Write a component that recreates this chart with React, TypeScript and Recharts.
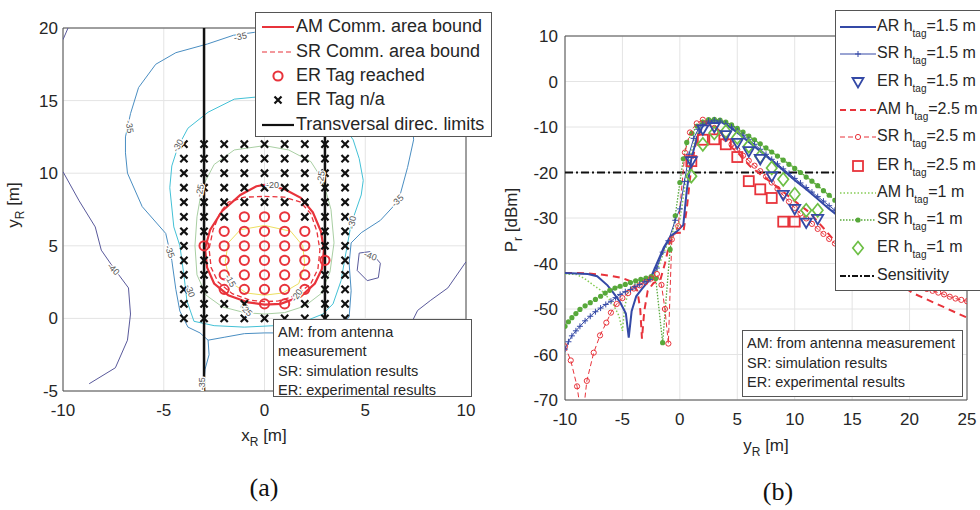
import React from 'react';
import { ComposedChart, Line, Scatter, XAxis, YAxis, CartesianGrid, ReferenceArea } from 'recharts';

type P = { x: number; y: number };
const pts = (a: number[][]): P[] => a.map(([x, y]) => ({ x, y }));

// ---------- Panel (a) ----------
const xTicksA = [-10, -5, 0, 5, 10];
const yTicksA = [-5, 0, 5, 10, 15, 20];

const contourM40Left = [[-10, 10.1], [-9.2, 8.1], [-8.4, 6.3], [-8.1, 4.7], [-7.5, 3.5], [-6.75, 2.1], [-6.65, 0.3], [-6.8, -1.5], [-7.4, -3.4], [-8.7, -4.5]];
const contourM40Corner = [[-10, 19.2], [-9.75, 20]];
const contourM40Island = [[4.7, 4.5], [5.25, 4.6], [5.75, 3.8], [5.65, 2.8], [5.1, 2.6], [4.6, 3.3], [4.7, 4.5]];
const contourM40Right = [[10, 3.9], [9.1, 2.1], [8.25, 1.25], [7.6, 0.55], [7.35, -0.15], [7.2, -1.5]];
const contourM35 = [[-3.05, -5], [-2.95, -3.5], [-2.75, -2.5], [-2.8, -1.5], [-3.2, -1.0], [-3.8, -0.6], [-4.2, 0.5], [-4.4, 2], [-4.6, 4], [-4.9, 5.85], [-6.07, 7.7], [-6.8, 10], [-6.9, 11.4], [-6.9, 12.5], [-6.65, 14.1], [-6.25, 15.9], [-5.4, 17.5], [-4.4, 18.3], [-2.83, 18.9], [-1.54, 19.5], [-0.5, 19.7], [1, 19.8], [3, 19.8], [5, 19], [6.5, 17], [7.3, 14.5], [7.4, 12.3], [7.1, 10.4], [6.65, 8.1], [5.75, 6.75], [4.8, 5.9], [4.3, 5.2], [4.2, 3.8], [4.3, 1.9], [4.2, 0.1], [3.5, -0.9], [2, -1.0], [0, -1.0], [-1, -1.05], [-2, -1.3], [-2.8, -1.5]];
const contourM30 = [[0, 15.3], [-1.5, 15.1], [-2.8, 14.2], [-3.8, 13.1], [-4.3, 11.8], [-4.6, 10.5], [-4.7, 9], [-4.5, 6.3], [-4.2, 5], [-4.0, 3], [-3.85, 1.2], [-3.5, -0.2], [-2.5, -0.5], [-1, -0.6], [0.5, -0.5], [2, -0.2], [2.9, 0.3], [3.4, 1.0], [3.8, 2.6], [4.0, 4.2], [4.3, 6.5], [4.8, 8.5], [4.9, 9.5], [4.7, 11], [4.4, 12.3], [3.8, 13.5], [2.5, 14.6], [1, 15.2], [0, 15.3]];
const contourM25 = [[0, 11.9], [-1.5, 11.6], [-2.5, 10.6], [-3.1, 9.0], [-3.35, 7], [-3.45, 5], [-3.35, 3], [-2.9, 1.6], [-2.1, 0.8], [-1, 0.4], [0, 0.3], [1, 0.4], [2, 0.85], [2.8, 1.7], [3.25, 3.2], [3.45, 5.2], [3.3, 7.5], [2.9, 9.5], [2.3, 10.8], [1.2, 11.6], [0, 11.9]];
const contourM15 = [[0, 6.4], [-1.2, 6.1], [-1.8, 5.2], [-1.95, 3.9], [-1.7, 2.5], [-0.9, 1.75], [0, 1.6], [0.9, 1.75], [1.7, 2.4], [2.0, 3.7], [1.9, 5.0], [1.3, 6.0], [0, 6.4]];
const amBound = [[0, 9.2], [1, 8.9], [1.8, 8.3], [2.4, 7.3], [2.8, 6.0], [2.95, 4.7], [2.85, 3.4], [2.5, 2.4], [1.8, 1.5], [0.8, 1.0], [0, 0.95], [-0.8, 1.1], [-1.8, 1.6], [-2.5, 2.4], [-2.85, 3.5], [-2.95, 4.8], [-2.7, 6.1], [-2.1, 7.4], [-1.2, 8.5], [-0.4, 9.1], [0, 9.2]];
const srBound = [[0, 8.4], [1, 8.35], [1.8, 8.0], [2.3, 7.2], [2.6, 6.0], [2.75, 4.7], [2.65, 3.4], [2.3, 2.4], [1.6, 1.6], [0.7, 1.2], [0, 1.15], [-0.7, 1.25], [-1.6, 1.7], [-2.3, 2.5], [-2.65, 3.5], [-2.75, 4.8], [-2.55, 6.1], [-2.2, 7.3], [-1.8, 8.0], [-1, 8.35], [0, 8.4]];
const transLeft = [[-3, -5], [-3, 20]];
const transRight = [[3, -5], [3, 20]];

const tagX = [-4, -3, -2, -1, 0, 1, 2, 3, 4];
const tagY = [0, 1, 2, 3, 4, 5, 6, 7, 8, 9, 10, 11, 12];
const reachedTags = [
  [-1, 7], [0, 7], [1, 7],
  [-2, 6], [-1, 6], [0, 6], [1, 6], [2, 6],
  [-3, 5], [-2, 5], [-1, 5], [0, 5], [1, 5], [2, 5],
  [-2, 4], [-1, 4], [0, 4], [1, 4], [2, 4], [3, 4],
  [-2, 3], [-1, 3], [0, 3], [1, 3], [2, 3],
  [-2, 2], [-1, 2], [0, 2], [1, 2], [2, 2],
  [0, 1], [1, 1],
];
const reachedKeys = new Set(reachedTags.map(([x, y]) => `${x},${y}`));
const naTags: P[] = [];
tagY.forEach((y) => tagX.forEach((x) => { if (!reachedKeys.has(`${x},${y}`)) naTags.push({ x, y }); }));

const contourLabels = [
  { x: -1.2, y: 19.4, t: '-35', a: -12 },
  { x: -6.7, y: 13.2, t: '-35', a: 80 },
  { x: -4.3, y: 11.9, t: '-30', a: -60 },
  { x: -4.7, y: 4.6, t: '-35', a: 70 },
  { x: -7.5, y: 3.4, t: '-40', a: 45 },
  { x: 6.6, y: 8.1, t: '-35', a: -45 },
  { x: 4.35, y: 6.6, t: '-30', a: -80 },
  { x: 5.25, y: 4.3, t: '-40', a: 20 },
  { x: -3.1, y: -4.5, t: '-35', a: -90 },
  { x: -3.2, y: 8.8, t: '-25', a: -80 },
  { x: 2.8, y: 9.7, t: '-25', a: -80 },
  { x: 0.4, y: 9.2, t: '-20', a: 0 },
  { x: -1.7, y: 2.6, t: '-15', a: 60 },
  { x: 1.6, y: 1.6, t: '-20', a: -55 },
  { x: -0.9, y: 0.55, t: '-25', a: 45 },
  { x: -3.7, y: 1.9, t: '-30', a: 70 },
];

// ---------- Panel (b) ----------
const xTicksB = [-10, -5, 0, 5, 10, 15, 20, 25];
const yTicksB = [-70, -60, -50, -40, -30, -20, -10, 0, 10];

const ar15 = [[-10, -42.1], [-9, -42.2], [-8, -42.3], [-7.2, -42.8], [-6.3, -44.8], [-5.8, -46.4], [-5.2, -48.5], [-4.7, -51], [-4.45, -56.3], [-4.2, -50.5], [-3.8, -47.2], [-3.3, -45.6], [-2.6, -43.5], [-2, -40], [-1.4, -36.5], [-0.8, -34], [-0.2, -32.8], [0.3, -31.5], [0.6, -24], [1.0, -17], [1.5, -12.2], [2, -9.8], [2.5, -8.9], [3, -8.6], [3.5, -8.8], [4, -9.4], [5, -11.2], [6, -13.3], [7, -15.3], [8, -17.4], [9, -19.5], [10, -21.7], [11, -23.7], [12, -25.8], [13, -28], [14, -30], [16, -33.5], [18, -36.5], [20, -39], [22, -41], [25, -43.5]];
const sr15 = [[-10, -58.8], [-9.7, -57.2], [-9.4, -55.9], [-9.05, -54.8], [-8.7, -53.8], [-8.25, -52.6], [-7.8, -51.6], [-7.35, -50.6], [-6.9, -49.8], [-6.45, -49], [-6, -48.3], [-5.6, -47.5], [-5.2, -46.8], [-4.75, -46.2], [-4.3, -45.7], [-3.9, -45.1], [-3.5, -44.6], [-3.05, -44], [-2.6, -43.5], [-2, -41], [-1.5, -37.5], [-1, -35], [-0.4, -30.5], [0, -28], [0.4, -22], [0.8, -16], [1.2, -12.5], [1.6, -10.5], [2, -9.4], [2.5, -8.7], [3, -8.5], [3.5, -8.7], [4, -9.3], [4.5, -10], [5, -10.9], [5.5, -11.8], [6, -12.8], [6.5, -13.8], [7, -14.9], [7.5, -16], [8, -17.1], [8.5, -18.1], [9, -19.2], [9.5, -20.2], [10, -21.3], [10.5, -22.3], [11, -23.3], [11.5, -24.3], [12, -25.3], [12.5, -26.3], [13, -27.3], [13.5, -28.3], [14, -29.2], [15, -31], [17, -34.2], [19, -37], [21, -39.5], [23, -41.5], [25, -43.3]];
const er15 = [[1, -17.5], [2, -10.5], [3, -10], [4, -11.8], [5, -13.5], [6, -15.3], [7, -17], [8, -20.8], [9, -24.9], [10, -28], [11, -31], [12, -30.2]];
const am25 = [[-10, -42.1], [-9, -42.1], [-8, -42.2], [-7, -42.4], [-6, -42.7], [-5, -43.2], [-4.2, -44], [-3.7, -46], [-3.45, -50], [-3.3, -56.5], [-3.1, -50.5], [-2.8, -46], [-2.3, -44.3], [-1.7, -43.6], [-1.3, -40], [-0.9, -35.5], [-0.4, -33.3], [0.3, -33.2], [0.6, -28], [0.9, -21], [1.3, -14.5], [1.8, -10.8], [2.3, -9.2], [2.8, -9.3], [3.5, -11], [4.4, -14.3], [5, -15.5], [6.1, -18.6], [7, -20.4], [8.5, -23.2], [10, -26.3], [11.3, -28.8], [12.5, -32.2], [13.3, -34.5], [15, -37.5], [17, -40.8], [19, -44.2], [20.2, -46.4], [21.5, -47.9], [23, -49.6], [25, -51.9]];
const sr25 = [[-10, -58.2], [-9.5, -61.3], [-8.95, -67], [-8.5, -75], [-8.1, -65.8], [-7.5, -59.6], [-6.95, -55.8], [-6.4, -53], [-6, -50.8], [-5.5, -48.9], [-5, -47.6], [-4.5, -46.5], [-4, -45.5], [-3.5, -44.8], [-3, -44.1], [-2.5, -43.3], [-2, -42.3], [-1.6, -44.7], [-1.3, -50], [-1.0, -57.6], [-0.7, -34.7], [-0.14, -31.8], [0.44, -15.6], [0.88, -11.2], [1.47, -9.2], [2, -8.4], [2.5, -9.2], [3, -10.2], [3.5, -11.3], [4, -12.6], [4.5, -13.8], [5, -15], [5.5, -16.3], [6, -17.4], [6.5, -18.5], [7, -19.7], [7.5, -20.9], [8, -22.2], [8.5, -23.6], [9, -25], [9.5, -26.4], [10, -27.8], [10.5, -29], [11, -30.1], [11.5, -31.3], [12, -32.4], [12.5, -33.5], [13, -34.6], [13.5, -35.6], [14, -36.5], [15, -38.2], [16, -39.7], [17, -41], [18, -42.2], [19, -43.3], [20, -44.2], [21, -45.1], [21.5, -45.6], [22, -46], [22.5, -46.4], [23, -46.8], [23.5, -47.3], [24, -47.7], [24.5, -48], [25, -48.3]];
const er25 = [[1, -17.5], [2, -12.8], [3, -12.7], [4, -13.8], [5, -16.6], [6, -21.9], [7, -23.7], [8, -25.6], [9, -30.8], [10, -30.8]];
const am1 = [[-10, -42.3], [-9, -42.4], [-8.3, -43.3], [-7.5, -44.8], [-6.6, -46.4], [-5.8, -49], [-5.3, -51.5], [-5.0, -54.8], [-4.8, -49.5], [-4.5, -46.2], [-4, -44.6], [-3, -43.5], [-2.3, -42.8], [-1.9, -41], [-1.4, -37.5], [-0.9, -35], [-0.4, -33], [0, -30.5], [0.5, -22], [1, -15.5], [1.5, -11.5], [2, -9.3], [2.5, -8.5], [3, -8.3], [4, -8.9], [5, -10.4], [6, -12.1], [7, -13.8], [8, -15.5], [9, -17.2], [10, -19], [11, -20.9], [12, -22.9], [13, -25], [13.7, -26.6], [15, -29], [17, -32.3], [19, -35.2], [21, -37.7], [23, -40], [25, -42]];
const sr1 = [[-10, -53.8], [-9.7, -52.8], [-9.4, -51.9], [-9.05, -51], [-8.7, -50.1], [-8.25, -49.3], [-7.8, -48.6], [-7.35, -47.9], [-6.9, -47.2], [-6.5, -46.5], [-6.1, -45.9], [-5.65, -45.4], [-5.2, -45], [-4.75, -44.6], [-4.3, -44.2], [-3.85, -43.8], [-3.4, -43.5], [-2.95, -43.2], [-2.5, -42.9], [-2.1, -43.3], [-1.5, -57.4], [-0.85, -36.9], [-0.4, -29.5], [0, -22.2], [0.3, -17], [0.6, -13.4], [1.05, -11.4], [1.5, -9.8], [2, -8.9], [2.5, -8.4], [3, -8.3], [3.5, -8.5], [4, -8.9], [4.5, -9.5], [5, -10.3], [5.5, -11.1], [6, -12], [6.5, -12.8], [7, -13.7], [7.5, -14.6], [8, -15.5], [8.5, -16.4], [9, -17.3], [9.5, -18.2], [10, -19.1], [10.5, -20], [11, -21], [11.5, -21.9], [12, -22.9], [12.5, -24], [13, -25], [13.5, -26.1], [14, -27.1], [15, -29.1], [17, -32.6], [19, -35.5], [21, -38], [23, -40.2], [25, -42.2]];
const er1 = [[1, -20.8], [2, -13.8], [3, -11.3], [4, -11], [5, -12.3], [6, -14.2], [7, -16.5], [8, -19], [9, -21.5], [10, -24.8], [11, -28.3], [12, -28.3]];
const sensitivity = [[-10, -20], [25, -20]];

// ---------- styles ----------
const SANS = '"Liberation Sans", Arial, Helvetica, sans-serif';
const SERIF = '"Liberation Serif", "Times New Roman", serif';
const TXT = '#262626';
const BLUE = '#3449a6';
const RED = '#e8333b';
const GREEN = '#6dbf45';
const GREEN_D = '#57a83a';
const C40 = '#59599b';
const C35 = '#4a8ec2';
const C30 = '#43c1d6';
const C25 = '#a9cfa3';
const C15 = '#ecdf5f';

const tickStyle = { fill: TXT, fontSize: 17, fontFamily: SANS };

const crossShape = (props: any) => {
  const { cx, cy } = props;
  if (cx == null || cy == null) return <g />;
  const s = 3.6;
  return <path d={`M${cx - s},${cy - s}L${cx + s},${cy + s}M${cx - s},${cy + s}L${cx + s},${cy - s}`} stroke="#111" strokeWidth={2.2} />;
};
const ringShape = (props: any) => {
  const { cx, cy } = props;
  if (cx == null || cy == null) return <g />;
  return <circle cx={cx} cy={cy} r={4.6} fill="none" stroke={RED} strokeWidth={2} />;
};
const labelShape = (props: any) => {
  const { cx, cy, payload } = props;
  if (cx == null || cy == null) return <g />;
  return (
    <text x={cx} y={cy} transform={`rotate(${payload.a} ${cx} ${cy})`} textAnchor="middle" dominantBaseline="central"
      fontSize={9} fontFamily={SANS} fill="#555" stroke="#fff" strokeWidth={2.5} paintOrder="stroke">{payload.t}</text>
  );
};
const triShape = (props: any) => {
  const { cx, cy } = props;
  if (cx == null || cy == null) return <g />;
  return <path d={`M${cx - 5.5},${cy - 4}L${cx + 5.5},${cy - 4}L${cx},${cy + 5.5}Z`} fill="none" stroke={BLUE} strokeWidth={1.8} />;
};
const sqShape = (props: any) => {
  const { cx, cy } = props;
  if (cx == null || cy == null) return <g />;
  return <rect x={cx - 5} y={cy - 5} width={10} height={10} fill="none" stroke={RED} strokeWidth={1.8} />;
};
const diaShape = (props: any) => {
  const { cx, cy } = props;
  if (cx == null || cy == null) return <g />;
  return <path d={`M${cx},${cy - 6.5}L${cx + 5.2},${cy}L${cx},${cy + 6.5}L${cx - 5.2},${cy}Z`} fill="none" stroke={GREEN} strokeWidth={1.7} />;
};
const inRange = (p: any) => p && p.payload && p.payload.y >= -70 && p.payload.y <= 10;
const plusDot = (props: any) => {
  const { cx, cy, index } = props;
  if (cx == null || cy == null || !inRange(props)) return <g key={`pl${index}`} />;
  return <path key={`pl${index}`} d={`M${cx - 3},${cy}h6M${cx},${cy - 3}v6`} stroke={BLUE} strokeWidth={1} />;
};
const ringDot = (props: any) => {
  const { cx, cy, index } = props;
  if (cx == null || cy == null || !inRange(props)) return <g key={`rd${index}`} />;
  return <circle key={`rd${index}`} cx={cx} cy={cy} r={2.6} fill="none" stroke={RED} strokeWidth={1} />;
};
const fillDot = (props: any) => {
  const { cx, cy, index } = props;
  if (cx == null || cy == null || !inRange(props)) return <g key={`fd${index}`} />;
  return <circle key={`fd${index}`} cx={cx} cy={cy} r={2.6} fill={GREEN_D} stroke="none" />;
};

const contour = (key: string, data: number[][], color: string, width = 1) => (
  <Line key={key} data={pts(data)} dataKey="y" type="linear" stroke={color} strokeWidth={width} dot={false} activeDot={false} isAnimationActive={false} />
);

const PanelA = () => (
  <ComposedChart width={490} height={510} margin={{ top: 28, right: 24, left: 23, bottom: 89 }}>
    <CartesianGrid stroke="#e4e4e4" strokeWidth={1} />
    <XAxis type="number" dataKey="x" domain={[-10, 10]} ticks={xTicksA} allowDataOverflow axisLine={false} tickLine={false} tick={tickStyle} tickMargin={7} height={30} />
    <YAxis type="number" dataKey="y" domain={[-5, 20]} ticks={yTicksA} allowDataOverflow axisLine={false} tickLine={false} tick={tickStyle} tickSize={4} tickMargin={1} width={40} />
    {contour('c40a', contourM40Left, C40)}
    {contour('c40b', contourM40Corner, C40)}
    {contour('c40c', contourM40Island, C40)}
    {contour('c40d', contourM40Right, C40)}
    {contour('c35', contourM35, C35)}
    {contour('c30', contourM30, C30)}
    {contour('c25', contourM25, C25)}
    {contour('c15', contourM15, C15)}
    <Line data={pts(srBound)} dataKey="y" type="linear" stroke={RED} strokeWidth={1.3} strokeDasharray="5 3" dot={false} activeDot={false} isAnimationActive={false} />
    <Line data={pts(amBound)} dataKey="y" type="linear" stroke={RED} strokeWidth={2.2} dot={false} activeDot={false} isAnimationActive={false} />
    <Line data={pts(transLeft)} dataKey="y" type="linear" stroke="#111" strokeWidth={2.5} dot={false} activeDot={false} isAnimationActive={false} />
    <Line data={pts(transRight)} dataKey="y" type="linear" stroke="#111" strokeWidth={2.5} dot={false} activeDot={false} isAnimationActive={false} />
    <Scatter data={naTags} shape={crossShape} isAnimationActive={false} />
    <Scatter data={pts(reachedTags)} shape={ringShape} isAnimationActive={false} />
    <Scatter data={contourLabels} shape={labelShape} isAnimationActive={false} />
    <ReferenceArea x1={-10} x2={10} y1={-5} y2={20} fill="none" stroke="#4d4d4d" strokeWidth={1} />
  </ComposedChart>
);

const PanelB = () => (
  <ComposedChart width={490} height={510} margin={{ top: 36, right: 13, left: 35, bottom: 80 }}>
    <CartesianGrid stroke="#e4e4e4" strokeWidth={1} />
    <XAxis type="number" dataKey="x" domain={[-10, 25]} ticks={xTicksB} allowDataOverflow axisLine={false} tickLine={false} tick={tickStyle} tickMargin={7} height={30} />
    <YAxis type="number" dataKey="y" domain={[-70, 10]} ticks={yTicksB} allowDataOverflow axisLine={false} tickLine={false} tick={tickStyle} tickSize={6} tickMargin={1} width={40} />
    <Line data={pts(sensitivity)} dataKey="y" type="linear" stroke="#111" strokeWidth={2} strokeDasharray="8 3 2 3" dot={false} activeDot={false} isAnimationActive={false} />
    <Line data={pts(am1)} dataKey="y" type="linear" stroke="#86cc55" strokeWidth={1.5} strokeDasharray="1.5 2" dot={false} activeDot={false} isAnimationActive={false} />
    <Line data={pts(sr1)} dataKey="y" type="linear" stroke={GREEN_D} strokeWidth={1.3} strokeDasharray="1.5 1.5" dot={fillDot} activeDot={false} isAnimationActive={false} />
    <Line data={pts(sr25)} dataKey="y" type="linear" stroke={RED} strokeWidth={1} strokeDasharray="5 3" dot={ringDot} activeDot={false} isAnimationActive={false} />
    <Line data={pts(am25)} dataKey="y" type="linear" stroke={RED} strokeWidth={2} strokeDasharray="7 5" dot={false} activeDot={false} isAnimationActive={false} />
    <Line data={pts(sr15)} dataKey="y" type="linear" stroke={BLUE} strokeWidth={1} dot={plusDot} activeDot={false} isAnimationActive={false} />
    <Line data={pts(ar15)} dataKey="y" type="linear" stroke={BLUE} strokeWidth={2} dot={false} activeDot={false} isAnimationActive={false} />
    <Scatter data={pts(er25)} shape={sqShape} isAnimationActive={false} />
    <Scatter data={pts(er1)} shape={diaShape} isAnimationActive={false} />
    <Scatter data={pts(er15)} shape={triShape} isAnimationActive={false} />
    <ReferenceArea x1={-10} x2={25} y1={-70} y2={10} fill="none" stroke="#4d4d4d" strokeWidth={1} />
  </ComposedChart>
);

const Sub = ({ children, size = 12, top = 5 }: any) => (
  <span style={{ fontSize: size, position: 'relative', top }}>{children}</span>
);

const legendA = [
  { label: 'AM Comm. area bound', kind: 'solid' },
  { label: 'SR Comm. area bound', kind: 'dash' },
  { label: 'ER Tag reached', kind: 'ring' },
  { label: 'ER Tag n/a', kind: 'cross' },
  { label: 'Transversal direc. limits', kind: 'black' },
];
const legendARows = [27, 52, 76, 100, 125];

const SampleA = ({ kind }: { kind: string }) => (
  <svg width={32} height={16} style={{ position: 'absolute', left: 6, top: 0 }}>
    {kind === 'solid' && <line x1={0} x2={32} y1={8} y2={8} stroke={RED} strokeWidth={2} />}
    {kind === 'dash' && <line x1={0} x2={32} y1={8} y2={8} stroke={RED} strokeWidth={1.2} strokeDasharray="5 3" />}
    {kind === 'ring' && <circle cx={16} cy={8} r={4.6} fill="none" stroke={RED} strokeWidth={2} />}
    {kind === 'cross' && <path d="M12.5,4.5L19.5,11.5M12.5,11.5L19.5,4.5" stroke="#111" strokeWidth={2.2} />}
    {kind === 'black' && <line x1={0} x2={32} y1={8} y2={8} stroke="#111" strokeWidth={2.2} />}
  </svg>
);

const legendB = [
  { pre: 'AR h', val: '=1.5 m', kind: 'ar15' },
  { pre: 'SR h', val: '=1.5 m', kind: 'sr15' },
  { pre: 'ER h', val: '=1.5 m', kind: 'er15' },
  { pre: 'AM h', val: '=2.5 m', kind: 'am25' },
  { pre: 'SR h', val: '=2.5 m', kind: 'sr25' },
  { pre: 'ER h', val: '=2.5 m', kind: 'er25' },
  { pre: 'AM h', val: '=1 m', kind: 'am1' },
  { pre: 'SR h', val: '=1 m', kind: 'sr1' },
  { pre: 'ER h', val: '=1 m', kind: 'er1' },
  { pre: 'Sensitivity', val: '', kind: 'sens' },
];
const legendBRows = [27, 54, 82, 110, 137, 166, 193, 220, 248, 276];

const SampleB = ({ kind }: { kind: string }) => (
  <svg width={36} height={16} style={{ position: 'absolute', left: 4, top: 0 }}>
    {kind === 'ar15' && <line x1={0} x2={36} y1={8} y2={8} stroke={BLUE} strokeWidth={2} />}
    {kind === 'sr15' && <g><line x1={0} x2={36} y1={8} y2={8} stroke={BLUE} strokeWidth={1} /><path d="M15,8h6M18,5v6" stroke={BLUE} strokeWidth={1} /></g>}
    {kind === 'er15' && <path d="M12.5,4L23.5,4L18,13.5Z" fill="none" stroke={BLUE} strokeWidth={1.8} />}
    {kind === 'am25' && <line x1={0} x2={36} y1={8} y2={8} stroke={RED} strokeWidth={2} strokeDasharray="6 4" />}
    {kind === 'sr25' && <g><line x1={0} x2={36} y1={8} y2={8} stroke={RED} strokeWidth={1} strokeDasharray="5 3" /><circle cx={18} cy={8} r={2.6} fill="#fff" stroke={RED} strokeWidth={1} /></g>}
    {kind === 'er25' && <rect x={13} y={3} width={10} height={10} fill="none" stroke={RED} strokeWidth={1.8} />}
    {kind === 'am1' && <line x1={0} x2={36} y1={8} y2={8} stroke="#86cc55" strokeWidth={1.5} strokeDasharray="1.5 2" />}
    {kind === 'sr1' && <g><line x1={0} x2={36} y1={8} y2={8} stroke={GREEN_D} strokeWidth={1.3} strokeDasharray="1.5 1.5" /><circle cx={18} cy={8} r={2.6} fill={GREEN_D} /></g>}
    {kind === 'er1' && <path d="M18,1.5L23.2,8L18,14.5L12.8,8Z" fill="none" stroke={GREEN} strokeWidth={1.7} />}
    {kind === 'sens' && <line x1={0} x2={36} y1={8} y2={8} stroke="#111" strokeWidth={2} strokeDasharray="6 2 2 2" />}
  </svg>
);

export default function App() {
  return (
    <div style={{ position: 'absolute', left: 0, top: 0, width: 980, height: 510, overflow: 'hidden', background: '#fff', fontFamily: SANS, color: TXT }}>
      <div style={{ position: 'absolute', left: 0, top: 0 }}><PanelA /></div>
      <div style={{ position: 'absolute', left: 490, top: 0 }}><PanelB /></div>

      {/* axis titles (a) */}
      <div style={{ position: 'absolute', left: 204, top: 426, width: 120, textAlign: 'center', fontSize: 17, lineHeight: '20px', whiteSpace: 'nowrap' }}>
        x<Sub>R</Sub> [m]
      </div>
      <div style={{ position: 'absolute', left: -46, top: 195, width: 120, height: 20, textAlign: 'center', fontSize: 17, lineHeight: '20px', transform: 'rotate(-90deg)', whiteSpace: 'nowrap' }}>
        y<Sub>R</Sub> [m]
      </div>
      {/* axis titles (b) */}
      <div style={{ position: 'absolute', left: 706, top: 436, width: 120, textAlign: 'center', fontSize: 17, lineHeight: '20px', whiteSpace: 'nowrap' }}>
        y<Sub>R</Sub> [m]
      </div>
      <div style={{ position: 'absolute', left: 452, top: 210, width: 120, height: 20, textAlign: 'center', fontSize: 17, lineHeight: '20px', transform: 'rotate(-90deg)', whiteSpace: 'nowrap' }}>
        P<Sub>r</Sub> [dBm]
      </div>

      {/* legend (a) */}
      <div style={{ position: 'absolute', left: 255, top: 12, width: 237, height: 125, border: '1px solid #555', background: '#fff', boxSizing: 'border-box' }}>
        {legendA.map((e, i) => (
          <div key={e.label} style={{ position: 'absolute', left: 0, top: legendARows[i] - 12 - 9, height: 16, width: 235 }}>
            <SampleA kind={e.kind} />
            <span style={{ position: 'absolute', left: 40, top: -3, fontSize: 18, lineHeight: '21px', whiteSpace: 'nowrap' }}>{e.label}</span>
          </div>
        ))}
      </div>

      {/* note (a) */}
      <div style={{ position: 'absolute', left: 273, top: 319, width: 199, height: 78, border: '1px solid #555', background: '#fff', boxSizing: 'border-box', fontSize: 14.5, lineHeight: '19.3px', padding: '3px 0 0 4px', whiteSpace: 'nowrap' }}>
        <div>AM: from antenna</div>
        <div>measurement</div>
        <div>SR: simulation results</div>
        <div>ER: experimental results</div>
      </div>

      {/* legend (b) */}
      <div style={{ position: 'absolute', left: 835, top: 10, width: 170, height: 281, border: '1px solid #555', background: '#fff', boxSizing: 'border-box' }}>
        {legendB.map((e, i) => (
          <div key={e.kind} style={{ position: 'absolute', left: 0, top: legendBRows[i] - 10 - 9, height: 16, width: 168 }}>
            <SampleB kind={e.kind} />
            <span style={{ position: 'absolute', left: 41, top: -3, fontSize: 16, lineHeight: '20px', whiteSpace: 'nowrap' }}>
              {e.pre}{e.val ? <><Sub size={10} top={6}>tag</Sub>{e.val}</> : null}
            </span>
          </div>
        ))}
      </div>

      {/* note (b) */}
      <div style={{ position: 'absolute', left: 742, top: 330, width: 221, height: 67, border: '1px solid #555', background: '#fff', boxSizing: 'border-box', fontSize: 14.5, lineHeight: '19.5px', padding: '3px 0 0 4px', whiteSpace: 'nowrap' }}>
        <div>AM: from antenna measurement</div>
        <div>SR: simulation results</div>
        <div>ER: experimental results</div>
      </div>

      {/* captions */}
      <div style={{ position: 'absolute', left: 214, top: 472, width: 100, textAlign: 'center', fontFamily: SERIF, fontSize: 26, lineHeight: '32px', color: '#111' }}>(a)</div>
      <div style={{ position: 'absolute', left: 728, top: 476, width: 100, textAlign: 'center', fontFamily: SERIF, fontSize: 26, lineHeight: '32px', color: '#111' }}>(b)</div>
    </div>
  );
}
